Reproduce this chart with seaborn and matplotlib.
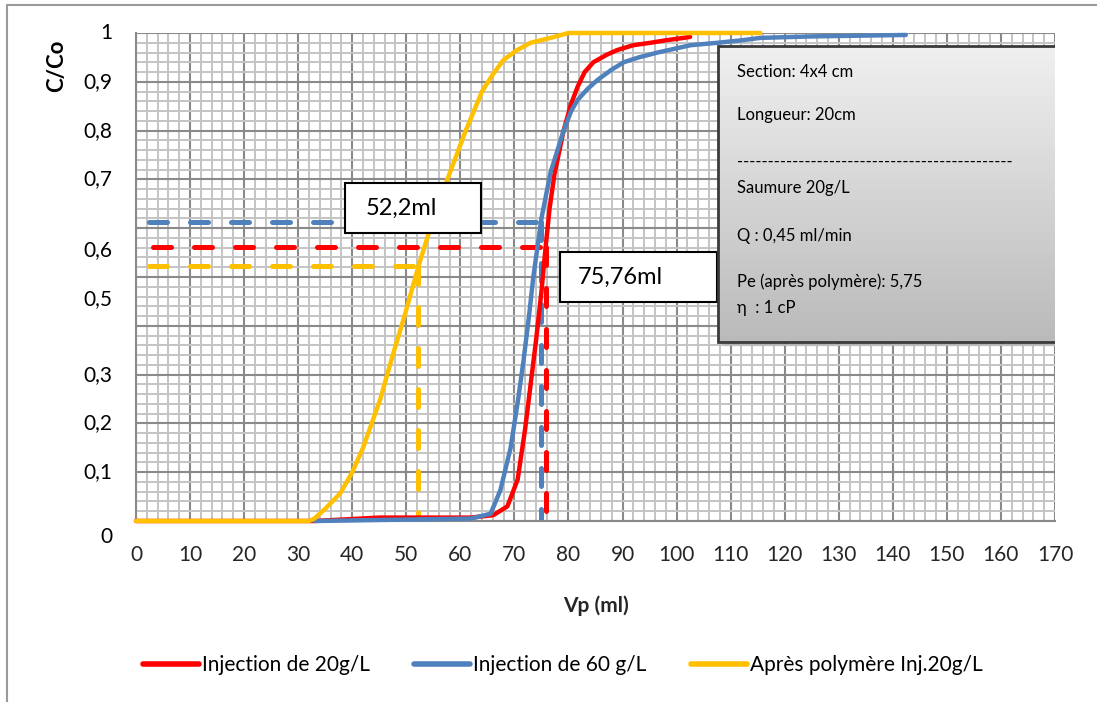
import numpy as np
import pandas as pd
import matplotlib
matplotlib.use("Agg")
import matplotlib.pyplot as plt
import matplotlib.transforms as mtransforms
from matplotlib.lines import Line2D
from matplotlib.patches import Rectangle
from matplotlib.ticker import MultipleLocator
from matplotlib.colors import LinearSegmentedColormap
import seaborn as sns

# --- breakthrough curves (pore volume in ml vs relative concentration C/Co) ---
vp_20 = [0, 33, 45, 62, 66.1, 68.7, 70.6, 72.0, 73.0, 74.0, 75.0, 75.76, 76.5,
         77.4, 79.1, 80.5, 81.7, 83.0, 84.6, 87.0, 89.0, 92.0, 95.2, 98.0, 101.3, 102.5]
c_20 = [0, 0, 0.007, 0.007, 0.012, 0.03, 0.085, 0.19, 0.28, 0.37, 0.47, 0.56, 0.64,
        0.71, 0.80, 0.855, 0.89, 0.92, 0.94, 0.955, 0.965, 0.975, 0.98, 0.985, 0.99, 0.992]

vp_60 = [33, 62, 65.6, 67.4, 69.3, 70.7, 71.7, 72.7, 73.5, 75.0, 76.7, 79.1,
         80.5, 81.7, 83.5, 85.4, 88.0, 90.2, 93.0, 96.5, 102.6, 107.6, 112.0,
         115.5, 125.0, 142.4]
c_60 = [0, 0.005, 0.015, 0.063, 0.15, 0.25, 0.33, 0.42, 0.50, 0.62, 0.715, 0.80,
        0.84, 0.863, 0.885, 0.904, 0.925, 0.94, 0.95, 0.96, 0.975, 0.98, 0.985,
        0.99, 0.993, 0.996]

vp_poly = [0, 32, 33, 35, 37.8, 40, 42, 45.2, 47.5, 49.8, 52.2, 55, 57.6, 61,
           64, 66, 68, 70.5, 73, 76.7, 80, 115.5]
c_poly = [0, 0, 0.005, 0.025, 0.057, 0.1, 0.15, 0.25, 0.34, 0.425, 0.52, 0.62,
          0.70, 0.80, 0.88, 0.915, 0.945, 0.965, 0.98, 0.99, 1.0, 1.0]

series_names = ["Injection de 20g/L", "Injection de 60 g/L", "Après polymère Inj.20g/L"]
series_colors = ["#FF0000", "#4F81BD", "#FFC000"]

# reading levels and the volumes
level_60, vol_60 = 0.613, 75.0
level_20, vol_20 = 0.561, 75.76
level_poly, vol_poly = 0.523, 52.2
guide_start = [3.1, 2.4, 2.4]

y_tick_text = ["1", "0,9", "0,8", "0,7", "0,6", "0,5", "0,3", "0,2", "0,1", "0"]
y_tick_text_pos = [1.0, 0.9, 0.8, 0.7, 0.555, 0.455, 0.3, 0.2, 0.1, -0.033]

info_lines = ["Section: 4x4 cm", "Longueur: 20cm", "-" * 45, "Saumure 20g/L",
              "Q : 0,45 ml/min", "Pe (après polymère): 5,75", "η  : 1 cP"]
info_line_y = [0.92, 0.832, 0.736, 0.682, 0.584, 0.49, 0.436]

df = pd.concat([
    pd.DataFrame({"Vp": vp_20, "C": c_20, "serie": series_names[0]}),
    pd.DataFrame({"Vp": vp_60, "C": c_60, "serie": series_names[1]}),
    pd.DataFrame({"Vp": vp_poly, "C": c_poly, "serie": series_names[2]}),
], ignore_index=True)

sns.set_style("white")
plt.rcParams["font.family"] = ["Lato", "DejaVu Sans"]
plt.rcParams["text.color"] = "black"

fig = plt.figure(figsize=(10.97, 7.02), dpi=100)
ax = fig.add_axes([136 / 1097, 1 - 521 / 702, (1055 - 136) / 1097, (521 - 33) / 702])

major_grid = "#8a8a8a"
minor_grid = "#c4c4c4"

ax.set_xlim(0, 170)
ax.set_ylim(0, 1)
ax.xaxis.set_major_locator(MultipleLocator(10))
ax.xaxis.set_minor_locator(MultipleLocator(2))
ax.yaxis.set_major_locator(MultipleLocator(0.1))
ax.yaxis.set_minor_locator(MultipleLocator(0.02))
ax.grid(which="minor", color=minor_grid, lw=1.4, zorder=0)
ax.grid(which="major", color=major_grid, lw=1.5, zorder=0)
ax.set_axisbelow(True)
for s in ["top", "right"]:
    ax.spines[s].set_visible(False)
for s in ["left", "bottom"]:
    ax.spines[s].set_color(major_grid)
    ax.spines[s].set_linewidth(1.5)
ax.tick_params(which="major", direction="out", length=6, width=1.5, color=major_grid,
               labelsize=15, pad=11)
ax.tick_params(which="minor", length=0)
ax.tick_params(axis="y", labelleft=False)

# dashed read-off guides (drawn below the curves)
guide_specs = [(level_20, vol_20, series_colors[0], guide_start[0]),
               (level_60, vol_60, series_colors[1], guide_start[1]),
               (level_poly, vol_poly, series_colors[2], guide_start[2])]
for lvl, vol, col, x0 in [guide_specs[1], guide_specs[0], guide_specs[2]]:
    ax.plot([x0, vol], [lvl, lvl], color=col, lw=3.6, dashes=(3.6, 4.6),
            dash_capstyle="round", zorder=2)
    ax.plot([vol, vol], [lvl, 0], color=col, lw=3.6, dashes=(3.6, 4.6),
            dash_capstyle="round", zorder=2)

sns.lineplot(data=df, x="Vp", y="C", hue="serie", hue_order=series_names,
             palette=series_colors, estimator=None, sort=False, lw=3.2,
             ax=ax, clip_on=False, zorder=3)

ax.set_xlabel("Vp (ml)", fontsize=15, fontweight="bold")
ax.xaxis.set_label_coords(0.5, -0.152)
ax.set_ylabel("")
fig.text(57 / 1097, 1 - 66 / 702, "C/Co", rotation=90, ha="center", va="center",
         fontsize=16, fontweight="bold")

# y tick labels
ytr = mtransforms.blended_transform_factory(ax.transAxes, ax.transData)
for lab, pos in zip(y_tick_text, y_tick_text_pos):
    ax.text(-0.026, pos, lab, transform=ytr, ha="right", va="center", fontsize=15,
            clip_on=False)

# value call-outs
for x0, x1, y0, y1, tx, label in [(38.7, 63.8, 0.590, 0.693, 42.4, "52,2ml"),
                                   (78.4, 107.5, 0.449, 0.551, 81.8, "75,76ml")]:
    ax.add_patch(Rectangle((x0, y0), x1 - x0, y1 - y0, facecolor="white",
                           edgecolor="black", lw=1.5, zorder=5))
    ax.text(tx, (y0 + y1) / 2, label, ha="left", va="center", fontsize=17, zorder=6)

# information panel with a vertical grey gradient and soft shadow
bx0, bx1, by0, by1 = 107.7, 170.2, 0.367, 0.973
for k, a in enumerate([0.12, 0.09, 0.06]):
    d = 0.35 * (k + 1)
    ax.add_patch(Rectangle((bx0 + d, by0 - d * 0.009), bx1 - bx0, by1 - by0,
                           facecolor="#555555", edgecolor="none", alpha=a, zorder=6))
grad = np.linspace(0, 1, 256).reshape(-1, 1)
cmap = LinearSegmentedColormap.from_list("panel", ["#f0f0f0", "#bababa"])
ax.imshow(grad, extent=(bx0, bx1, by0, by1), origin="upper", cmap=cmap,
          aspect="auto", zorder=7)
ax.add_patch(Rectangle((bx0, by0), bx1 - bx0, by1 - by0, facecolor="none",
                       edgecolor="#3a3a3a", lw=2.0, zorder=8))
for txt, yy in zip(info_lines, info_line_y):
    ax.text(111.2, yy, txt, ha="left", va="center", fontsize=12, zorder=9)
ax.set_xlim(0, 170)
ax.set_ylim(0, 1)

# legend below the plot
sns.move_legend(ax, "center", bbox_to_anchor=(0.513, 1 - 665 / 702),
                bbox_transform=fig.transFigure, ncol=3, frameon=False, title=None,
                fontsize=15, handlelength=2.7, handletextpad=0.15, columnspacing=2.1)
for h in ax.get_legend().legend_handles:
    h.set_linewidth(4)

# outer chart border (left and top edges)
fig.add_artist(Line2D([7 / 1097, 7 / 1097], [0, 1 - 5 / 702], transform=fig.transFigure,
                      color="#9a9a9a", lw=1.5))
fig.add_artist(Line2D([7 / 1097, 1], [1 - 5 / 702, 1 - 5 / 702], transform=fig.transFigure,
                      color="#9a9a9a", lw=1.5))

fig.savefig("out.png", dpi=100, facecolor="white")
